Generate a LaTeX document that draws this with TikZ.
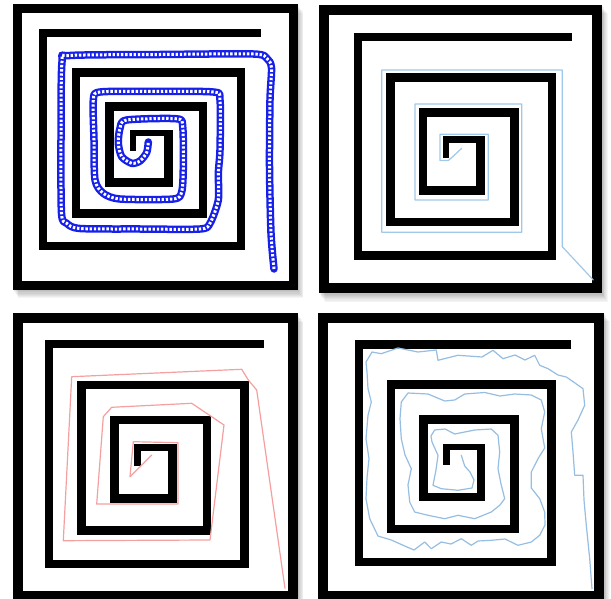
\documentclass[tikz,border=0pt]{standalone}
\definecolor{chainblue}{RGB}{22,32,232}
\definecolor{tracetwo}{RGB}{160,200,232}
\definecolor{tracethree}{RGB}{245,160,160}
\definecolor{tracefour}{RGB}{150,190,226}
\tikzset{
  spiralline/.style={draw=black, line width=8.5pt, line cap=butt, line join=miter},
  hookline/.style={draw=black, line width=6.5pt, line cap=butt, line join=miter},
  chainlink/.style={draw=white, line width=3pt, dash pattern=on 2.4pt off 1.8pt, line join=round,
     preaction={draw=chainblue, line width=7.5pt, solid, line join=round, line cap=round}},
  thintrace/.style={line width=1.2pt, line join=round, line cap=round}
}
\newcommand{\panelbox}[5]{%
  \foreach \k in {1,...,7}{\fill[black,fill opacity=0.04] (#1+0.8*\k,#2+1.2*\k) rectangle (#3+0.8*\k,#4+1.2*\k);}
  \fill[white] (#1,#2) rectangle (#3,#4);
  \draw[line width=#5pt] (#1+#5/2,#2+#5/2) rectangle (#3-#5/2,#4-#5/2);
}
\newcommand{\myspiral}{%
  \draw[spiralline] (252.2,31.6) -- (38.5,31.6) -- (38.5,250.2) -- (232.4,250.2) -- (232.4,72)
     -- (70.9,72) -- (70.9,216.8) -- (195.2,216.8) -- (195.2,107) -- (103.6,107) -- (103.6,184.9)
     -- (161.2,184.9) -- (161.2,131.05);
  \draw[hookline] (165.45,134.3) -- (126.6,134.3) -- (126.6,152.3);
}
\begin{document}
\begin{tikzpicture}[x=1pt,y=-1pt]
\useasboundingbox (0,0) rectangle (611,599);
\fill[white] (0,0) rectangle (611,599);

% ---------- panel 1 ----------
\panelbox{12.7}{4.3}{297.7}{290}{9}
\begin{scope}[shift={(3.7,2.2)}, xscale=1.021, yscale=0.974]
  \myspiral
\end{scope}
\draw[chainlink] plot[smooth, tension=0.45] coordinates {
 (274,269) (271,233) (269.5,166.7) (270,100) (271.5,68) (267,58.5) (253.3,54) (160,54.5)
 (70,55.5) (62,62) (61,140) (61.5,213.3) (66.7,223.3) (80,228.5) (140,229) (200,229)
 (210,223.3) (218.3,200) (218.3,173.3) (220,150) (220,100) (213.3,92) (150,91.5) (100,92)
 (93.3,100) (94,140) (95,180) (103.3,193.3) (120,199) (173.3,199) (181.7,191.7) (183.3,166.7)
 (182.7,126.7) (176.7,118.8) (126.7,120) (120,128.3) (118.3,143.3) (121.7,156.7) (131.7,163.3)
 (140,161) (146.7,152.5) (148.3,142)};

% ---------- panel 2 ----------
\panelbox{319}{5}{602}{293.3}{10}
\begin{scope}[shift={(319.5,5.4)}]
  \myspiral
\end{scope}
\draw[thintrace, draw=tracetwo] (461.7,148.3) -- (452.7,156.7) -- (448.3,160.5) -- (440,160.5)
  -- (440,134.3) -- (488.3,134.3) -- (488.3,200) -- (415,200) -- (415,104) -- (521.7,104)
  -- (521.7,232.3) -- (381.7,232.3) -- (381.7,70) -- (562.3,70) -- (562.3,246.7) -- (593.3,280);

% ---------- panel 3 ----------
\panelbox{12.7}{313.3}{297.7}{600.5}{10}
\begin{scope}[shift={(10,312.4)}, xscale=1.008, yscale=1.006]
  \myspiral
\end{scope}
\draw[thintrace, draw=tracethree] (151.7,455) -- (130,476.7) -- (133.3,441.7) -- (178,442.7)
  -- (178,504) -- (96.7,504) -- (103.3,416.7) -- (111.7,407.3) -- (191.7,403.3) -- (224,425)
  -- (210,540) -- (63.3,540.7) -- (71.7,376.7) -- (241.7,369.3) -- (248.3,380) -- (256.7,390)
  -- (285,588.3);

% ---------- panel 4 ----------
\panelbox{318.3}{312.7}{604}{600.5}{10}
\begin{scope}[shift={(320.5,313)}, xscale=0.995, yscale=0.996]
  \myspiral
\end{scope}
\draw[thintrace, draw=tracefour] (592,588.7) -- (589.7,558.7) -- (586.3,525.3) -- (584,500)
  -- (583,475.3) -- (574.7,475.3) -- (573,452) -- (571.3,432) -- (578,420) -- (584.7,405.3)
  -- (583,388.7) -- (575,383) -- (566.3,377) -- (558,375) -- (548,368.7) -- (539.7,365.3)
  -- (534.7,355.3) -- (525,360) -- (515,355) -- (503,358.7) -- (493,350.3) -- (482,357)
  -- (458,355.3) -- (438,360.3) -- (436.3,350) -- (418,352) -- (408,350) -- (398,348)
  -- (381.3,353.7) -- (372,352) -- (366,362) -- (367,372) -- (368,388.7) -- (371.3,402)
  -- (368,415.3) -- (366,438.7) -- (369,458.7) -- (367,478) -- (366,498.7) -- (369.7,518.7)
  -- (378,536) -- (391.3,540) -- (404.7,546) -- (414,550) -- (424.7,542) -- (431.3,548.7)
  -- (441.3,542) -- (451,544) -- (461.3,538.7) -- (471.3,545.3) -- (478,541) -- (491.3,540.3)
  -- (505,539) -- (518,545.3) -- (531.3,542) -- (539.7,535.3) -- (545,525) -- (544.7,512)
  -- (539.7,498.7) -- (531.3,488) -- (531.3,472) -- (538,458.7) -- (544.7,448) -- (541.3,428.7)
  -- (544.7,412) -- (541.3,400) -- (531.3,395) -- (514.7,394) -- (500,396) -- (484.7,392.5)
  -- (464.7,394) -- (454.7,400) -- (444.7,401) -- (428,394) -- (408,393) -- (401.3,402)
  -- (400,418.7) -- (401.3,438.7) -- (405,455) -- (411.3,468.7) -- (408,485) -- (409.7,502)
  -- (414.7,512) -- (428,515.3) -- (444.7,518.7) -- (458,515.3) -- (474.7,518.7) -- (491.3,512)
  -- (499.7,505.3) -- (504.7,498.7) -- (501,484) -- (498,468.7) -- (499.7,452) -- (498,435.3)
  -- (491.3,429) -- (474.7,430) -- (464.7,432) -- (454.7,434) -- (445,429) -- (434.7,430)
  -- (431,436) -- (432,442) -- (438,455.3) -- (436,470) -- (433,485.3) -- (441.3,488.7)
  -- (458,490.3) -- (472,488) -- (474,480) -- (470,472) -- (464.7,466) -- (461.3,455.3);
\end{tikzpicture}
\end{document}
